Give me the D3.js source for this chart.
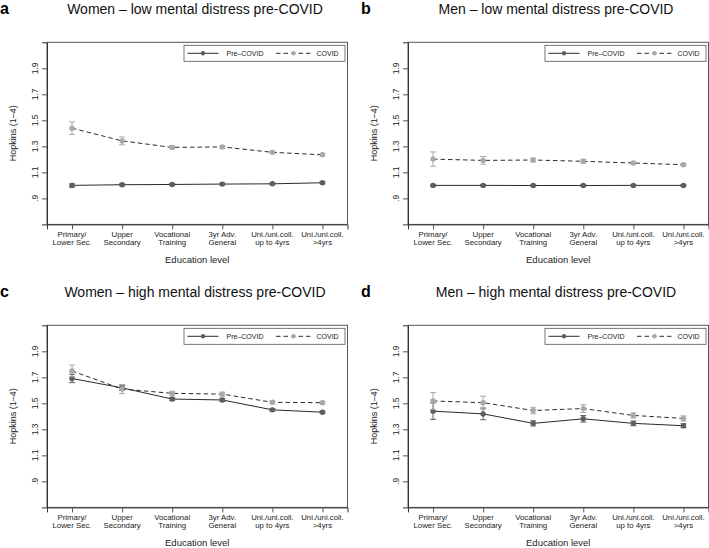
<html>
<head>
  <style>
    body { margin: 0; background: #fff; }
    text { font-family: "Liberation Sans", Arial, Helvetica, sans-serif; }
  </style>
  <script src="https://d3js.org/d3.v7.min.js"></script>
</head>
<body>
<div id="chart"></div>
<script type="text/javascript">
  // education categories (two lines each)
  var categories = [
    ["Primary/", "Lower Sec."],
    ["Upper", "Secondary"],
    ["Vocational", "Training"],
    ["3yr Adv.", "General"],
    ["Uni./uni.coll.", "up to 4yrs"],
    ["Uni./uni.coll.", ">4yrs"]
  ];
  var yTicks = [0.9, 1.1, 1.3, 1.5, 1.7, 1.9];
  var yTickLabels = [".9", "1.1", "1.3", "1.5", "1.7", "1.9"];
  var letters = ["a", "b", "c", "d"];
  var titles = [
    "Women \u2013 low mental distress pre-COVID",
    "Men \u2013 low mental distress pre-COVID",
    "Women \u2013 high mental distress pre-COVID",
    "Men \u2013 high mental distress pre-COVID"
  ];
  var seriesNames = ["Pre\u2013COVID", "COVID"];

  // mean Hopkins score and half-width of the error bar
  var preA    = [1.000, 1.005, 1.007, 1.010, 1.012, 1.020];
  var preAErr = [0.012, 0.008, 0.006, 0.008, 0.007, 0.008];
  var covA    = [1.440, 1.342, 1.292, 1.296, 1.254, 1.235];
  var covAErr = [0.048, 0.030, 0.012, 0.010, 0.010, 0.010];

  var preB    = [1.000, 1.000, 0.999, 0.999, 1.000, 1.000];
  var preBErr = [0.008, 0.006, 0.005, 0.006, 0.005, 0.006];
  var covB    = [1.202, 1.192, 1.195, 1.185, 1.172, 1.159];
  var covBErr = [0.055, 0.030, 0.014, 0.015, 0.010, 0.010];

  var preC    = [1.691, 1.619, 1.533, 1.526, 1.450, 1.432];
  var preCErr = [0.032, 0.020, 0.012, 0.012, 0.010, 0.008];
  var covC    = [1.749, 1.610, 1.577, 1.571, 1.508, 1.505];
  var covCErr = [0.045, 0.035, 0.015, 0.015, 0.012, 0.010];

  var preD    = [1.440, 1.419, 1.346, 1.381, 1.346, 1.328];
  var preDErr = [0.063, 0.045, 0.020, 0.025, 0.018, 0.015];
  var covD    = [1.518, 1.505, 1.445, 1.460, 1.407, 1.384];
  var covDErr = [0.065, 0.050, 0.025, 0.030, 0.020, 0.020];

  var panels = [
    { pre: preA, preErr: preAErr, cov: covA, covErr: covAErr, ox: 0,   oy: 0 },
    { pre: preB, preErr: preBErr, cov: covB, covErr: covBErr, ox: 361, oy: 0 },
    { pre: preC, preErr: preCErr, cov: covC, covErr: covCErr, ox: 0,   oy: 283 },
    { pre: preD, preErr: preDErr, cov: covD, covErr: covDErr, ox: 361, oy: 283 }
  ];

  var preColor = "#5e5e5e", covColor = "#a9a9a9", lineColor = "#2b2b2b";

  var svg = d3.select("#chart").append("svg")
      .attr("width", 709)
      .attr("height", 548);

  panels.forEach(function(p, k) {
    var g = svg.append("g").attr("transform", "translate(" + p.ox + "," + p.oy + ")");
    var left = 47, right = 347.5, top = 42.3, bottom = 224.4;

    var x = d3.scaleLinear().domain([0.5, 6.5]).range([left, right]);
    var y = d3.scaleLinear().domain([0.7, 2.1]).range([bottom, top]);

    // letter + title
    g.append("text").attr("x", 0).attr("y", 14)
      .attr("font-size", 16).attr("font-weight", "bold").text(letters[k]);
    g.append("text").attr("x", 195).attr("y", 14)
      .attr("text-anchor", "middle").attr("font-size", 14).attr("fill", "#111")
      .text(titles[k]);

    // plot region box
    g.append("rect")
      .attr("x", left).attr("y", top)
      .attr("width", right - left).attr("height", bottom - top)
      .attr("fill", "none").attr("stroke", "#555").attr("stroke-width", 1);

    // y axis
    var yAxis = g.append("g").attr("transform", "translate(" + left + ",0)")
      .call(d3.axisLeft(y).tickValues(yTicks).tickSize(5).tickFormat(""));
    yAxis.select(".domain").attr("stroke", "#333");
    yAxis.selectAll(".tick line").attr("stroke", "#555");
    g.selectAll(".ylab").data(yTicks).enter().append("text")
      .attr("class", "ylab")
      .attr("transform", function(d) { return "translate(38," + y(d) + ") rotate(-90)"; })
      .attr("text-anchor", "middle")
      .attr("font-size", 8.5).attr("fill", "#222")
      .text(function(d, i) { return yTickLabels[i]; });
    g.append("text")
      .attr("transform", "translate(16," + ((top + bottom) / 2) + ") rotate(-90)")
      .attr("text-anchor", "middle").attr("font-size", 9).attr("fill", "#222")
      .text("Hopkins (1\u20134)");

    // x axis
    var xAxis = g.append("g").attr("transform", "translate(0," + bottom + ")")
      .call(d3.axisBottom(x).tickValues([1, 2, 3, 4, 5, 6]).tickSize(5).tickFormat(""));
    xAxis.select(".domain").attr("stroke", "#333");
    xAxis.selectAll(".tick line").attr("stroke", "#555");
    categories.forEach(function(c, i) {
      var t = g.append("text").attr("x", x(i + 1)).attr("y", bottom + 12.5)
        .attr("text-anchor", "middle").attr("font-size", 7.8).attr("fill", "#222");
      t.append("tspan").attr("x", x(i + 1)).text(c[0]);
      t.append("tspan").attr("x", x(i + 1)).attr("dy", 7.6).text(c[1]);
    });
    g.append("text").attr("x", (left + right) / 2).attr("y", 262.5)
      .attr("text-anchor", "middle").attr("font-size", 9.5).attr("fill", "#222")
      .text("Education level");

    // series
    var series = [
      { v: p.pre, e: p.preErr, color: preColor, dash: null },
      { v: p.cov, e: p.covErr, color: covColor, dash: "4.5,3" }
    ];
    var line = d3.line().x(function(d, i) { return x(i + 1); }).y(function(d) { return y(d); });
    series.forEach(function(s) {
      g.append("path").datum(s.v)
        .attr("d", line).attr("fill", "none")
        .attr("stroke", lineColor).attr("stroke-width", 1)
        .attr("stroke-dasharray", s.dash);
      var eb = g.append("g");
      s.v.forEach(function(v, i) {
        var cx = x(i + 1), lo = y(v - s.e[i]), hi = y(v + s.e[i]);
        eb.append("line").attr("x1", cx).attr("x2", cx).attr("y1", lo).attr("y2", hi)
          .attr("stroke", s.color).attr("stroke-width", 1);
        eb.append("line").attr("x1", cx - 3).attr("x2", cx + 3).attr("y1", lo).attr("y2", lo)
          .attr("stroke", s.color).attr("stroke-width", 1);
        eb.append("line").attr("x1", cx - 3).attr("x2", cx + 3).attr("y1", hi).attr("y2", hi)
          .attr("stroke", s.color).attr("stroke-width", 1);
      });
      g.append("g").selectAll("circle").data(s.v).enter().append("circle")
        .attr("cx", function(d, i) { return x(i + 1); })
        .attr("cy", function(d) { return y(d); })
        .attr("r", 2.7).attr("fill", s.color);
    });

    // legend
    var lg = g.append("g");
    lg.append("rect").attr("x", 184).attr("y", 45.3).attr("width", 161).attr("height", 16)
      .attr("fill", "#fff").attr("stroke", "#555").attr("stroke-width", 0.8);
    var ly = 53.3;
    var items = [
      { x1: 187.5, x2: 218.5, tx: 226.5, color: preColor, dash: null },
      { x1: 276, x2: 311, tx: 316.5, color: covColor, dash: "4.5,3" }
    ];
    items.forEach(function(it, i) {
      lg.append("line").attr("x1", it.x1).attr("x2", it.x2).attr("y1", ly).attr("y2", ly)
        .attr("stroke", lineColor).attr("stroke-width", 1).attr("stroke-dasharray", it.dash);
      lg.append("circle").attr("cx", (it.x1 + it.x2) / 2).attr("cy", ly).attr("r", 2.2)
        .attr("fill", it.color);
      lg.append("text").attr("x", it.tx).attr("y", ly + 2.5)
        .attr("font-size", 7).attr("fill", "#222").text(seriesNames[i]);
    });
  });
</script>
</body>
</html>
